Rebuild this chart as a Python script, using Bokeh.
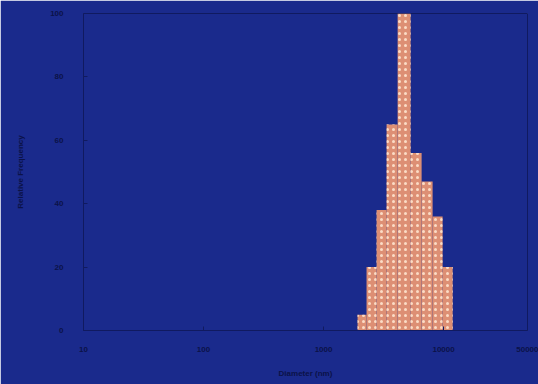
from bokeh.plotting import figure
from bokeh.models import FixedTicker, NumeralTickFormatter, Range1d
from bokeh.embed import file_html
from bokeh.resources import INLINE

# Histogram data (log-spaced bins)
bin_edges = [1920, 2280, 2765, 3350, 4140, 5310, 6560, 8100, 9810, 11900]
frequency = [5, 20, 38, 65, 100, 56, 47, 36, 20]
x_ticks = [10, 100, 1000, 10000, 50000]
y_ticks = [0, 20, 40, 60, 80, 100]

BG = "#1a2a8c"
INK = "#0b1248"
FRAME = "#101a60"

p = figure(width=538, height=384, x_axis_type="log",
           x_range=Range1d(10, 50000), y_range=Range1d(0, 100),
           output_backend="svg", toolbar_location=None,
           min_border_left=83, min_border_right=11, min_border_top=13, min_border_bottom=54)
p.background_fill_color = BG
p.border_fill_color = BG
p.outline_line_color = FRAME
p.outline_line_width = 1
p.grid.visible = False

p.quad(left=bin_edges[:-1], right=bin_edges[1:], top=frequency, bottom=0,
       fill_color="#dd8f74", line_color=None,
       hatch_pattern="dot", hatch_color="#fbdcc6", hatch_scale=6, hatch_weight=4)

for ax in (p.xaxis[0], p.yaxis[0]):
    ax.axis_line_color = FRAME
    ax.major_tick_line_color = FRAME
    ax.minor_tick_line_color = FRAME
    ax.major_tick_in = 4
    ax.major_tick_out = 0
    ax.minor_tick_in = 2
    ax.minor_tick_out = 0
    ax.major_label_text_color = INK
    ax.major_label_text_font = "Liberation Sans"
    ax.major_label_text_font_size = "8px"
    ax.major_label_text_font_style = "bold"
    ax.axis_label_text_color = INK
    ax.axis_label_text_font = "Liberation Sans"
    ax.axis_label_text_font_size = "8px"
    ax.axis_label_text_font_style = "bold"

p.xaxis.ticker = FixedTicker(ticks=x_ticks)
p.xaxis.formatter = NumeralTickFormatter(format="0")
p.xaxis.major_label_standoff = 16
p.xaxis.axis_label = "Diameter (nm)"
p.xaxis.axis_label_standoff = 14

p.yaxis.ticker = FixedTicker(ticks=y_ticks)
p.yaxis.major_label_standoff = 20
p.yaxis.axis_label = "Relative Frequency"
p.yaxis.axis_label_standoff = 22

html = file_html(p, INLINE)
open("out.html", "w").write(html)
